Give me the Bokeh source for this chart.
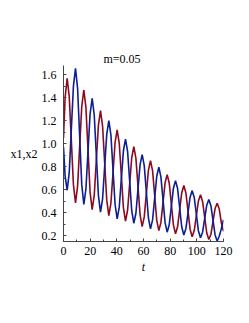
from bokeh.plotting import figure
from bokeh.models import Range1d, FixedTicker, NumeralTickFormatter
from bokeh.embed import file_html
from bokeh.resources import INLINE

title_text = "m=0.05"
y_label = "x1,x2"
x_label = "t"

t = [0.0, 1.19, 2.75, 4.31, 5.88, 7.44, 9.00, 10.56, 12.13, 13.69, 15.25, 16.81, 18.38, 19.94,
     21.50, 23.06, 24.63, 26.19, 27.75, 29.31, 30.88, 32.44, 34.00, 35.56, 37.13, 38.69,
     40.25, 41.81, 43.38, 44.94, 46.50, 48.06, 49.63, 51.19, 52.75, 54.31, 55.88, 57.44,
     59.00, 60.56, 62.13, 63.69, 65.25, 66.81, 68.38, 69.94, 71.50, 73.06, 74.63, 76.19,
     77.75, 79.31, 80.88, 82.44, 84.00, 85.56, 87.13, 88.69, 90.25, 91.81, 93.38, 94.94,
     96.50, 98.06, 99.63, 101.19, 102.75, 104.31, 105.88, 107.44, 109.00, 110.56, 112.13,
     113.69, 115.25, 116.81, 118.38, 120.0]

x1 = [1.05, 1.40, 1.568, 1.409, 1.026, 0.643, 0.484, 0.628, 0.976, 1.323, 1.467, 1.315, 0.947, 0.578,
      0.426, 0.552, 0.857, 1.161, 1.287, 1.153, 0.831, 0.508, 0.374, 0.483, 0.747, 1.010,
      1.119, 1.003, 0.722, 0.441, 0.325, 0.420, 0.650, 0.879, 0.974, 0.872, 0.626, 0.380,
      0.278, 0.362, 0.565, 0.768, 0.852, 0.763, 0.548, 0.332, 0.243, 0.314, 0.487, 0.659,
      0.730, 0.655, 0.473, 0.290, 0.215, 0.276, 0.425, 0.573, 0.635, 0.570, 0.413, 0.255,
      0.190, 0.243, 0.372, 0.501, 0.554, 0.497, 0.360, 0.222, 0.165, 0.211, 0.323,
      0.435, 0.481, 0.431, 0.311, 0.237]

x2 = [0.97, 0.72, 0.594, 0.749, 1.125, 1.500, 1.655, 1.482, 1.063, 0.643, 0.470, 0.605, 0.932, 1.259,
      1.394, 1.249, 0.899, 0.548, 0.403, 0.520, 0.802, 1.083, 1.200, 1.075, 0.773, 0.470,
      0.345, 0.447, 0.693, 0.938, 1.040, 0.933, 0.674, 0.414, 0.307, 0.394, 0.606, 0.817,
      0.904, 0.809, 0.581, 0.353, 0.258, 0.336, 0.526, 0.716, 0.794, 0.711, 0.512, 0.312,
      0.229, 0.295, 0.454, 0.612, 0.678, 0.609, 0.442, 0.274, 0.205, 0.262, 0.398, 0.534,
      0.591, 0.531, 0.386, 0.240, 0.180, 0.229, 0.347, 0.464, 0.513, 0.460, 0.333,
      0.205, 0.152, 0.194, 0.260, 0.337]

x_ticks = [0, 20, 40, 60, 80, 100, 120]
y_ticks = [0.2, 0.4, 0.6, 0.8, 1.0, 1.2, 1.4, 1.6]

FONT = "Liberation Serif"

p = figure(width=241, height=315, output_backend="svg", toolbar_location=None,
           x_range=Range1d(0, 120), y_range=Range1d(0.148, 1.68),
           min_border_left=63, min_border_right=18, min_border_top=65, min_border_bottom=74)
p.outline_line_color = None
p.grid.visible = False
p.background_fill_color = "white"
p.border_fill_color = "white"

p.title.text = title_text
p.title.align = "left"
p.title.offset = 40
p.title.standoff = 0
p.title.text_font = FONT
p.title.text_font_size = "12px"
p.title.text_font_style = "normal"
p.title.text_color = "black"

p.line(t, x1, line_color="#8C0A1E", line_width=1.6)
p.line(t, x2, line_color="#0A1E96", line_width=1.6)

for ax in (p.xaxis[0], p.yaxis[0]):
    ax.major_label_text_font = FONT
    ax.major_label_text_font_size = "12px"
    ax.major_label_text_color = "black"
    ax.axis_line_color = "#444444"
    ax.major_tick_line_color = "#444444"
    ax.minor_tick_line_color = "#444444"
    ax.major_tick_in = 3
    ax.major_tick_out = 0
    ax.minor_tick_in = 2
    ax.minor_tick_out = 0
    ax.axis_label_text_font = FONT
    ax.axis_label_text_font_size = "12px"
    ax.axis_label_text_color = "black"

p.xaxis[0].ticker = FixedTicker(ticks=x_ticks, minor_ticks=list(range(0, 121, 10)))
p.yaxis[0].ticker = FixedTicker(ticks=y_ticks, minor_ticks=[round(0.1 * i, 1) for i in range(2, 17)])
p.yaxis[0].formatter = NumeralTickFormatter(format="0.0")
p.xaxis[0].major_label_standoff = 5
p.yaxis[0].major_label_standoff = 7

p.xaxis[0].axis_label = x_label
p.xaxis[0].axis_label_text_font_style = "italic"
p.xaxis[0].axis_label_standoff = 2

p.yaxis[0].axis_label = y_label
p.yaxis[0].axis_label_text_font_style = "normal"
p.yaxis[0].axis_label_orientation = "horizontal"
p.yaxis[0].axis_label_standoff = 1

open("out.html", "w").write(file_html(p, INLINE))
